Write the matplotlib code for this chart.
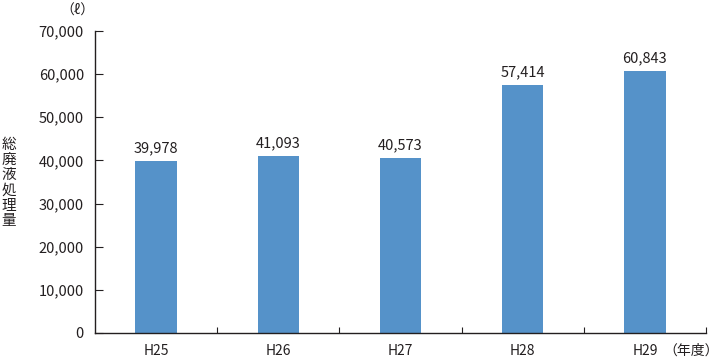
import matplotlib
matplotlib.use('Agg')
import matplotlib.pyplot as plt
from matplotlib.ticker import FuncFormatter

plt.rcParams['font.family'] = ['Noto Sans CJK JP', 'DejaVu Sans']

# data
years = ['H25', 'H26', 'H27', 'H28', 'H29']
volumes = [39978, 41093, 40573, 57414, 60843]
yticks = [0, 10000, 20000, 30000, 40000, 50000, 60000, 70000]

fig = plt.figure(figsize=(7.21, 3.6), dpi=100)
ax = fig.add_axes([95/721, 27/360, 611/721, 302/360])

x = range(len(years))
ax.bar(x, volumes, width=0.34, color='#5592c9', zorder=2)

# value labels above bars
for xi, v in zip(x, volumes):
    ax.text(xi, v + 1300, f'{v:,}', ha='center', va='bottom', fontsize=10.5, color='#231f20')

ax.set_xlim(-0.5, len(years) - 0.5)
ax.set_ylim(0, 70000)
ax.set_yticks(yticks)
ax.yaxis.set_major_formatter(FuncFormatter(lambda v, p: f'{int(v):,}'))
ax.tick_params(axis='y', direction='in', length=6, labelsize=10.5, colors='#231f20', pad=8)

# x ticks at category boundaries, labels at centres
ax.set_xticks([i + 0.5 for i in range(len(years))])
ax.set_xticklabels([])
ax.set_xticks(list(x), minor=True)
ax.set_xticklabels(years, minor=True, fontsize=10, color='#231f20')
ax.tick_params(axis='x', which='major', direction='in', length=4, color='#231f20')
ax.tick_params(axis='x', which='minor', length=0, pad=8)

for s in ['top', 'right']:
    ax.spines[s].set_visible(False)
for s in ['left', 'bottom']:
    ax.spines[s].set_color('#231f20')
    ax.spines[s].set_linewidth(1.0)

fig.text(77/721, 1 - 11/360, '（ℓ）', ha='center', va='center', fontsize=10, color='#231f20')
fig.text(9/721, 1 - 183/360, '\n'.join('総廃液処理量'), ha='center', va='center',
         fontsize=10.5, linespacing=1.12, color='#231f20')
fig.text(719/721, 1 - 351/360, '（年度）', ha='right', va='center', fontsize=10, color='#231f20')

fig.savefig('out.png', dpi=100)
